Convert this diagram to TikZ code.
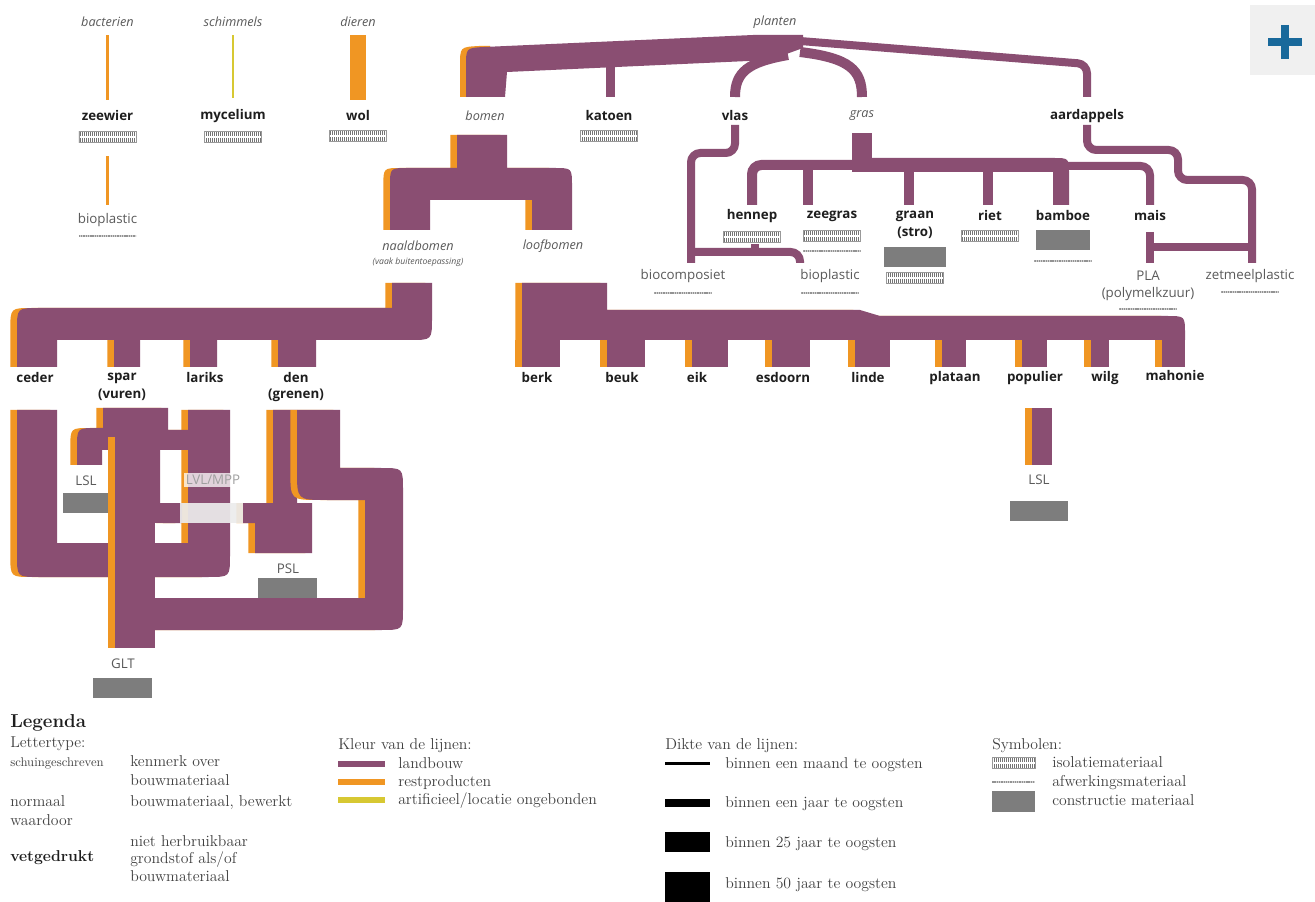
\documentclass[tikz,border=0pt]{standalone}
\usepackage{fontspec}
\newfontfamily\labelfont{Open Sans}
\usetikzlibrary{patterns.meta}

\definecolor{landbouw}{RGB}{138,78,114}
\definecolor{rest}{RGB}{240,150,35}
\definecolor{artificieel}{RGB}{215,200,50}
\definecolor{constr}{RGB}{125,125,125}
\definecolor{tekst}{RGB}{30,30,30}
\definecolor{grijs}{RGB}{90,90,90}
\definecolor{plusblauw}{RGB}{25,105,155}

% lint met oranje rand links
\newcommand{\lint}[1]{\fill[rest,xshift=-5pt] #1; \fill[landbouw] #1;}

\tikzset{
  kenmerk/.style={font=\labelfont\itshape\fontsize{9.5}{11}\selectfont, text=grijs, inner sep=1pt},
  grondstof/.style={font=\labelfont\bfseries\fontsize{10}{12}\selectfont, text=tekst, inner sep=1pt},
  bewerkt/.style={font=\labelfont\fontsize{10}{12}\selectfont, text=grijs, inner sep=1pt},
  isosym/.style={minimum width=43pt, minimum height=8.5pt, inner sep=0pt, draw=gray!80, line width=0.3pt,
    pattern={Lines[angle=90,distance=1.5pt,line width=0.6pt]}, pattern color=gray!90!black,
    path picture={\draw[white, line width=0.9pt] (path picture bounding box.west) -- (path picture bounding box.east);}},
  finsym/.style={minimum width=43pt, minimum height=2.2pt, inner sep=0pt, fill=gray!35,
    path picture={\draw[gray!85, line width=2.2pt, dash pattern=on 1pt off 0.7pt] (path picture bounding box.west) -- (path picture bounding box.east);}},
  constrsym/.style={minimum width=44pt, minimum height=15pt, inner sep=0pt, fill=constr},
  lbline/.style={draw=landbouw, line width=6pt, rounded corners=7pt},
  legtekst/.style={font=\fontsize{11.8}{13}\selectfont, text=tekst!85, anchor=base west, inner sep=0pt},
}

\begin{document}
\begin{tikzpicture}[x=0.75pt,y=-0.75pt]
\useasboundingbox (0,0) rectangle (1315,902);
\fill[white] (0,0) rectangle (1315,902);

% plus-knop
\fill[gray!12] (1250,5) rectangle (1315,75);
\draw[plusblauw, line width=6pt] (1268,42) -- (1302,42) (1285,25) -- (1285,59);

% bacterien, schimmels, dieren
\node[kenmerk] (bacterien) at (107.5,22) {bacterien};
\node[kenmerk] (schimmels) at (233,22) {schimmels};
\node[kenmerk] (dieren) at (358,22) {dieren};
\node[grondstof] (zeewier) at (107.5,116) {zeewier};
\node[isosym] (zeewier-iso) at (107.5,137) {};
\node[bewerkt] (bioplastic1) at (107.5,220) {bioplastic};
\node[finsym] at (107.5,236) {};
\node[grondstof] (mycelium) at (233,116) {mycelium};
\node[isosym] at (233,137) {};
\node[grondstof] (wol) at (358,116) {wol};
\node[isosym] at (358,136) {};
\draw[rest, line width=2.2pt, shorten <=5pt, shorten >=7pt] (bacterien.south) -- (zeewier.north);
\draw[rest, line width=2.2pt, shorten <=10pt, shorten >=5pt] (zeewier-iso.south) -- (bioplastic1.north);
\draw[artificieel, line width=2.2pt, shorten <=5pt, shorten >=7pt] (schimmels.south) -- (mycelium.north);
\draw[rest, line width=12.5pt, shorten <=5pt, shorten >=7pt] (dieren.south) -- (wol.north);

% planten
\node[kenmerk] (planten) at (775,22) {planten};
\fill[rest] (460,97) -- (460,66) .. controls (460,47) .. (479,46) -- (490,46) -- (490,97) -- cycle;
\fill[landbouw] (466,97) -- (466,66) .. controls (466,48) .. (484,47) -- (753,35) -- (803,35) -- (803,48) -- (770,60) -- (507,72) -- (505,97) -- cycle;
\draw[landbouw, line width=6.75pt] (610,66) -- (610,97);
\draw[landbouw, line width=7.5pt] (788,55) .. controls (748,62) and (735,72) .. (735,97);
\draw[landbouw, line width=7.5pt] (800,52) .. controls (850,58) and (862,70) .. (862,97);
\draw[landbouw, line width=6pt, rounded corners=7pt] (800,41) -- (1087,64) -- (1087,97);

\node[kenmerk] (bomen) at (485,116) {bomen};
\node[grondstof] (katoen) at (609,116) {katoen};
\node[isosym] at (609,136) {};
\node[grondstof] (vlas) at (735,116) {vlas};
\node[kenmerk] (gras) at (862,116) {gras};
\node[grondstof] (aardappels) at (1087,116) {aardappels};

% bomen: naald- en loofbomen
\lint{(457,135) -- (507,135) -- (507,168) -- (554,168) .. controls (572,168) .. (572,186) -- (572,230) -- (532,230) -- (532,200) -- (430,200) -- (430,230) -- (390,230) -- (390,186) .. controls (390,168) .. (408,168) -- (457,168) -- cycle}
\node[kenmerk] (naaldbomen) at (418,246) {naaldbomen};
\node[kenmerk, font=\labelfont\itshape\fontsize{6.5}{8}\selectfont] (buiten) at (418,262) {(vaak buitentoepassing)};
\node[kenmerk] (loofbomen) at (553,246) {loofbomen};

% gras
\fill[landbouw] (852,133) rectangle (872,172);
\fill[landbouw] (862,158) -- (1053,158) .. controls (1069,158) .. (1069,174) -- (1069,205) -- (1053,205) -- (1053,172) -- (862,172) -- cycle;
\draw[lbline, line width=7.5pt] (752,205) -- (752,165) -- (862,165);
\draw[lbline] (1060,166) -- (1150,166) -- (1150,205);
\draw[lbline, line width=7pt] (808,165) -- (808,205);
\draw[lbline, line width=7pt] (909,168) -- (909,205);
\draw[lbline, line width=7pt] (988,168) -- (988,205);
\draw[lbline] (735,125) -- (735,153) -- (691,153) -- (691,263);
\draw[lbline] (691,252) -- (800,252) -- (800,263);
\fill[landbouw] (751,244) rectangle (759,252);
\draw[lbline] (1087,125) -- (1087,150) -- (1178,150) -- (1178,180) -- (1252,180) -- (1252,263);
\draw[lbline] (1150,232) -- (1150,263);
\draw[lbline] (1150,247) -- (1252,247);

\node[grondstof] (hennep) at (752,216) {hennep};
\node[isosym] at (752,237) {};
\node[grondstof] (zeegras) at (832,216) {zeegras};
\node[isosym] at (832,236) {};
\node[finsym] at (832,251) {};
\node[grondstof] (graan) at (915,216) {graan};
\node[grondstof] (stro) at (915,233) {(stro)};
\node[constrsym, minimum width=46.5pt] at (915,257) {};
\node[isosym] at (915,278) {};
\node[grondstof] (riet) at (990,216) {riet};
\node[isosym] at (990,236) {};
\node[grondstof] (bamboe) at (1063,216) {bamboe};
\node[constrsym, minimum width=41pt] at (1063,240) {};
\node[finsym] at (1063,261) {};
\node[grondstof] (mais) at (1150,216) {mais};
\node[bewerkt] (biocomposiet) at (683,276) {biocomposiet};
\node[finsym] at (683,293) {};
\node[bewerkt] (bioplastic2) at (830,276) {bioplastic};
\node[finsym] at (830,293) {};
\node[bewerkt] (pla) at (1148,276) {PLA};
\node[bewerkt] (polymelkzuur) at (1148,294) {(polymelkzuur)};
\node[finsym] at (1148,309) {};
\node[bewerkt] (zetmeelplastic) at (1250,276) {zetmeelplastic};
\node[finsym] at (1250,292) {};

% naaldbomen
\lint{(392,283) -- (432,283) -- (432,318) .. controls (432,340) .. (410,340) -- (316,340) -- (316,367) -- (278,367) -- (278,340) -- (217,340) -- (217,367) -- (190,367) -- (190,340) -- (140,340) -- (140,367) -- (114,367) -- (114,340) -- (57,340) -- (57,367) -- (17,367) -- (17,330) .. controls (17,308) .. (39,308) -- (392,308) -- cycle}
\node[grondstof] (ceder) at (35,378) {ceder};
\node[grondstof] (spar) at (122,378) {spar};
\node[grondstof] (vuren) at (122,395) {(vuren)};
\node[grondstof] (lariks) at (205,378) {lariks};
\node[grondstof] (den) at (296,378) {den};
\node[grondstof] (grenen) at (296,395) {(grenen)};

% loofbomen
\lint{(522,283) -- (607,283) -- (607,310) -- (860,310) -- (880,316) -- (1167,316) .. controls (1185,316) .. (1185,334) -- (1185,340) -- (522,340) -- cycle}
\foreach \l/\r in {522/560,607/645,692/728,772/810,855/890,942/966,1022/1047,1091/1109,1162/1185}
  {\lint{(\l,340) rectangle (\r,367)}}
\node[grondstof] (berk) at (537,378) {berk};
\node[grondstof] (beuk) at (622,378) {beuk};
\node[grondstof] (eik) at (697,378) {eik};
\node[grondstof] (esdoorn) at (783,378) {esdoorn};
\node[grondstof] (linde) at (868,378) {linde};
\node[grondstof] (plataan) at (955,378) {plataan};
\node[grondstof] (populier) at (1035,378) {populier};
\node[grondstof] (wilg) at (1105,378) {wilg};
\node[grondstof] (mahonie) at (1175,376) {mahonie};

% populier naar LSL
\lint{(1032,408) rectangle (1052,465)}
\node[bewerkt] (lsl2) at (1039,480) {LSL};
\node[constrsym, minimum width=43.5pt, minimum height=15.5pt] at (1039,511) {};

% ceder, spar, lariks, den naar LSL, LVL/MPP, PSL, GLT
\lint{(17,410) -- (57,410) -- (57,543) -- (188,543) -- (188,410) -- (230,410) -- (230,555) .. controls (230,577) .. (208,577) -- (39,577) .. controls (17,577) .. (17,555) -- cycle}
\lint{(103,408) -- (168,408) -- (168,430) -- (190,430) -- (190,450) -- (102,450) -- (102,465) -- (77,465) -- (77,448) .. controls (77,428) .. (97,428) -- (103,428) -- cycle}
\lint{(143,447) -- (160,447) -- (160,503) -- (182,503) -- (182,523) -- (163,523) .. controls (143,523) .. (143,503) -- cycle}
\lint{(273,410) -- (297,410) -- (297,503) -- (312,503) -- (312,553) -- (255,553) -- (255,523) -- (243,523) -- (243,503) -- (273,503) -- cycle}
\lint{(297,410) -- (340,410) -- (340,468) -- (381,468) .. controls (403,468) .. (403,490) -- (403,608) .. controls (403,630) .. (381,630) -- (150,630) -- (150,598) -- (365,598) -- (365,500) -- (327,500) .. controls (297,500) .. (297,470) -- cycle}
\lint{(115,437) -- (155,437) -- (155,648) -- (115,648) -- cycle}
\fill[gray!15, opacity=0.92] (180,503) rectangle (243,523);
\node[bewerkt, text=gray!75, fill=white, fill opacity=0.75, text opacity=1, inner sep=1.5pt] (lvl) at (213,480) {LVL/MPP};
\node[bewerkt] (lsl1) at (86,481) {LSL};
\node[constrsym, minimum width=33.75pt] at (85.5,503) {};
\node[bewerkt] (psl) at (288,569) {PSL};
\node[constrsym] at (287.5,588) {};
\node[bewerkt] (glt) at (123,664) {GLT};
\node[constrsym] at (122.5,688) {};

% legenda
\node[anchor=base west, inner sep=0pt, font=\bfseries\fontsize{14}{16}\selectfont, text=tekst] (legenda) at (10,727) {Legenda};
\node[legtekst] (lettertype) at (10,747) {Lettertype:};
\node[legtekst, font=\fontsize{9.5}{11}\selectfont] (schuin) at (10,766) {schuingeschreven};
\node[legtekst] at (130,766) {kenmerk over};
\node[legtekst] at (130,785) {bouwmateriaal};
\node[legtekst] (normaal) at (10,806) {normaal};
\node[legtekst] at (130,806) {bouwmateriaal, bewerkt};
\node[legtekst] at (10,825) {waardoor};
\node[legtekst] at (130,846) {niet herbruikbaar};
\node[legtekst, font=\bfseries\fontsize{11.8}{13}\selectfont, text=tekst] (vet) at (10,861) {vetgedrukt};
\node[legtekst] at (130,863) {grondstof als/of};
\node[legtekst] at (130,881) {bouwmateriaal};

\node[legtekst] (kleur) at (338,749) {Kleur van de lijnen:};
\draw[landbouw, line width=4.5pt] (338,764) -- (385,764);
\draw[rest, line width=4.5pt] (338,782) -- (385,782);
\draw[artificieel, line width=4.5pt] (338,800) -- (385,800);
\node[legtekst] at (398,768) {landbouw};
\node[legtekst] at (398,786) {restproducten};
\node[legtekst] at (398,804) {artificieel/locatie ongebonden};

\node[legtekst] (dikte) at (665,749) {Dikte van de lijnen:};
\fill[black] (665,762) rectangle (710,765);
\fill[black] (665,799) rectangle (710,807);
\fill[black] (665,832) rectangle (710,852);
\fill[black] (665,872) rectangle (710,902);
\node[legtekst] at (725,768) {binnen een maand te oogsten};
\node[legtekst] at (725,807) {binnen een jaar te oogsten};
\node[legtekst] at (725,847) {binnen 25 jaar te oogsten};
\node[legtekst] at (725,888) {binnen 50 jaar te oogsten};

\node[legtekst] (symbolen) at (992,749) {Symbolen:};
\node[isosym, minimum width=32pt] at (1013.5,763) {};
\node[finsym, minimum width=32pt] at (1013.5,782) {};
\fill[constr] (992,791) rectangle (1035,812);
\node[legtekst] at (1052,767) {isolatiemateriaal};
\node[legtekst] at (1052,786) {afwerkingsmateriaal};
\node[legtekst] at (1052,805) {constructie materiaal};
\end{tikzpicture}
\end{document}
